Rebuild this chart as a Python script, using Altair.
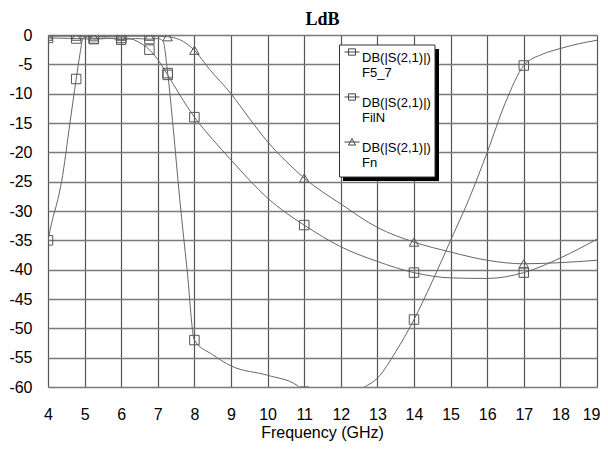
import altair as alt
import pandas as pd

# ---- data ----
series_names = ["F5_7", "FilN", "Fn"]

freq_f57 = [4.0, 4.1, 4.27, 4.37, 4.6, 4.77, 4.88, 4.96, 5.1, 5.25, 5.6, 6.0, 6.4, 6.77, 7.0, 7.14,
            7.27, 7.42, 7.6, 7.8, 8.0, 8.5, 9.0, 10.0, 10.8, 11.0, 11.5, 12.0, 12.65, 13.0, 13.5,
            14.0, 14.5, 15.0, 15.5, 16.0, 16.5, 17.0, 17.5, 18.0, 18.5, 19.0]
db_f57 = [-35, -32, -28, -25, -15, -7.5, -3, -0.5, -0.3, -0.6, -0.5, -0.8, -0.6, -0.7, -0.6, -1.0,
          -6.5, -15.8, -28, -40, -52, -54.5, -56.4, -58, -59.7, -60.8, -61.5, -61.8, -60, -58.5, -54,
          -48.5, -42, -35, -28, -20, -11.5, -5.2, -3.3, -2.3, -1.5, -0.9]

freq_filn = [4.0, 4.77, 5.25, 5.6, 6.0, 6.23, 6.5, 6.77, 7.0, 7.27, 7.6, 8.0, 8.5, 9.0, 9.5, 10.0,
             10.5, 11.0, 12.0, 13.0, 14.0, 15.0, 16.0, 17.0, 18.0, 19.0]
db_filn = [-0.5, -0.6, -0.7, -0.6, -0.5, -0.6, -1.3, -2.5, -4.2, -6.8, -10.2, -14.0, -17.8, -21.3,
           -24.7, -27.8, -30.3, -32.4, -36.1, -38.6, -40.5, -41.4, -41.5, -40.5, -38.0, -34.8]

freq_fn = [4.0, 4.77, 5.25, 6.0, 6.77, 7.27, 7.6, 8.0, 8.42, 9.0, 9.5, 10.0, 10.5, 11.0, 12.0, 13.0,
           14.0, 15.0, 16.0, 17.0, 18.0, 19.0]
db_fn = [-0.2, -0.2, -0.3, -0.2, -0.2, -0.3, -0.8, -2.6, -5.9, -10.0, -14.2, -18.2, -21.5, -24.4,
         -28.8, -32.8, -35.3, -37.0, -38.4, -39.0, -38.8, -38.4]

marker_freqs = [4.0, 4.77, 5.25, 6.0, 6.77, 7.27, 8.0, 11.0, 14.0, 17.0]

x_ticks = list(range(4, 20))
y_ticks = list(range(0, -61, -5))
legend_prefix = "DB(|S(2,1)|)"

# ---- tables ----
rows = []
for name, fs, ds in [("F5_7", freq_f57, db_f57), ("FilN", freq_filn, db_filn), ("Fn", freq_fn, db_fn)]:
    for f, d in zip(fs, ds):
        rows.append({"series": name, "freq": f, "db": d, "marker": f in marker_freqs})
df = pd.DataFrame(rows)
mk = df[df["marker"]].copy()

x_enc = alt.X("freq:Q",
              scale=alt.Scale(domain=[4, 19], nice=False, zero=False),
              axis=alt.Axis(values=x_ticks, title="Frequency (GHz)",
                            labelFont="Liberation Sans", labelFontSize=16, labelColor="black",
                            labelPadding=19, labelFlush=False, labelOverlap=False,
                            labelAlign=alt.condition("datum.value == 19", alt.value("right"), alt.value("center")),
                            labelOffset=alt.condition("datum.value == 19", alt.value(3), alt.value(0)),
                            ticks=False, tickSize=0, domain=False,
                            gridColor="#555555", gridWidth=1.2, gridOpacity=1,
                            titleFont="Liberation Sans", titleFontSize=16, titleFontWeight="normal",
                            titleColor="black", titleY=50, titleX=274, titleBaseline="alphabetic"))
y_enc = alt.Y("db:Q",
              scale=alt.Scale(domain=[-60, 0], nice=False, zero=False),
              axis=alt.Axis(values=y_ticks, title=None, labelExpr="'' + datum.value",
                            labelFont="Liberation Sans", labelFontSize=16, labelColor="black",
                            labelPadding=16, labelFlush=False, labelOverlap=False,
                            ticks=False, tickSize=0, domain=False,
                            gridColor="#7a7a7a", gridWidth=1.6, gridOpacity=1))

lines = alt.Chart(df).mark_line(color="#666666", strokeWidth=1, clip=True,
                                interpolate="monotone").encode(
    x=x_enc, y=y_enc, detail="series:N", order="freq:Q")

points = alt.Chart(mk).mark_point(filled=False, stroke="#555555", strokeWidth=1, size=90,
                                  opacity=1, clip=True).encode(
    x=x_enc, y=y_enc,
    shape=alt.Shape("series:N",
                    scale=alt.Scale(domain=series_names, range=["square", "square", "triangle-up"]),
                    legend=None))

sq_path = "M-1,0H1M-0.47,-0.42H0.47V0.42H-0.47Z"
tri_path = "M-1,0H1M-0.47,0.4L0,-0.45L0.47,0.4Z"

legend_layer = alt.Chart(mk).mark_point(filled=False, stroke="#444444", strokeWidth=1,
                                        opacity=0, clip=True).encode(
    x=x_enc, y=y_enc,
    shape=alt.Shape("series:N",
                    scale=alt.Scale(domain=series_names, range=[sq_path, sq_path, tri_path]),
                    legend=alt.Legend(
                        title=None, orient="none", legendX=296, legendY=9,
                        direction="vertical", padding=0,
                        labelFont="Liberation Sans", labelFontSize=13, labelColor="black",
                        labelExpr="['" + legend_prefix + "', datum.label]",
                        labelOffset=2, labelBaseline="top",
                        symbolSize=225, symbolStrokeColor="#444444", symbolStrokeWidth=1,
                        symbolFillColor="transparent", symbolOpacity=1, rowPadding=9)))

one = pd.DataFrame({"k": [0]})
shadow = alt.Chart(one).mark_rect(color="black").encode(
    x=alt.value(295), x2=alt.value(391), y=alt.value(14), y2=alt.value(146))
box = alt.Chart(one).mark_rect(fill="white", stroke="#333333", strokeWidth=1).encode(
    x=alt.value(291.5), x2=alt.value(387), y=alt.value(10), y2=alt.value(142))

chart = alt.layer(lines, shadow, box, points, legend_layer).resolve_scale(shape="independent").properties(
    width=549, height=352,
    title=alt.TitleParams("LdB", font="Liberation Serif", fontSize=18, fontWeight="bold",
                          anchor="middle", offset=6, dy=8, color="black"),
    padding={"left": 40, "top": 27, "right": 3, "bottom": 54},
    autosize=alt.AutoSizeParams(type="none"),
).configure_view(stroke="#555555", strokeWidth=1.5).configure(background="white")

chart.save("out.html", embed_options={"renderer": "svg", "actions": False})
